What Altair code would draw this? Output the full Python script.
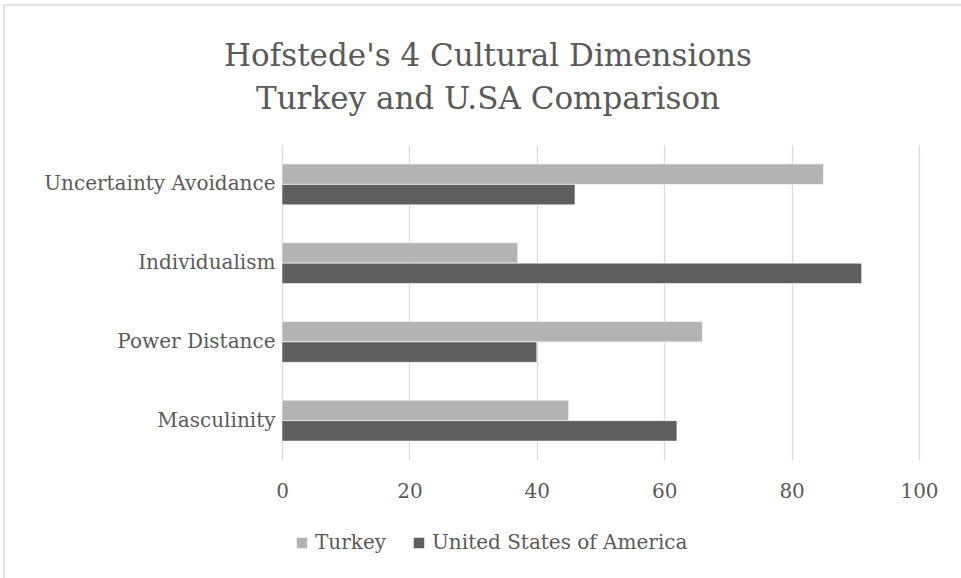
import altair as alt
import pandas as pd

categories = ["Uncertainty Avoidance", "Individualism", "Power Distance", "Masculinity"]
series = ["Turkey", "United States of America"]
turkey = [85, 37, 66, 45]
usa = [46, 91, 40, 62]
x_ticks = [0, 20, 40, 60, 80, 100]
title_lines = ["Hofstede's 4 Cultural Dimensions", "Turkey and U.SA Comparison"]

rows = []
for c, t, u in zip(categories, turkey, usa):
    rows.append({"category": c, "series": series[0], "value": t})
    rows.append({"category": c, "series": series[1], "value": u})
df = pd.DataFrame(rows)

FONT = "DejaVu Serif"
TXT = "#595959"

bars = alt.Chart(df).mark_bar(stroke="white", strokeWidth=0.6).encode(
    y=alt.Y("category:N", sort=categories, title=None,
            scale=alt.Scale(paddingInner=0.48, paddingOuter=0.24),
            axis=alt.Axis(ticks=False, domain=False, labelPadding=7,
                          labelFontSize=20, labelFont=FONT, labelColor=TXT,
                          labelLimit=400)),
    yOffset=alt.YOffset("series:N", sort=series),
    x=alt.X("value:Q", title=None,
            scale=alt.Scale(domain=[0, 100], nice=False),
            axis=alt.Axis(values=x_ticks, ticks=False, domain=False,
                          labelPadding=21, labelFontSize=20, labelFont=FONT,
                          labelColor=TXT, labelFlush=False,
                          grid=True, gridColor="#D9D9D9", gridWidth=1.3)),
    color=alt.Color("series:N", sort=series,
                    scale=alt.Scale(domain=series, range=["#B3B3B3", "#5E5E5E"]),
                    legend=alt.Legend(title=None, orient="none", direction="horizontal",
                                      legendX=10, legendY=388,
                                      symbolType="square", symbolSize=110,
                                      symbolStrokeWidth=0,
                                      labelFontSize=20, labelFont=FONT,
                                      labelColor=TXT, labelOffset=3,
                                      labelLimit=500,
                                      columnPadding=22, padding=0)),
)

frame = alt.Chart(alt.Data(values=[{}])).mark_rect(
    fill=None, stroke="#D9D9D9", strokeWidth=1.5
).encode(
    x=alt.value(-278), x2=alt.value(700),
    y=alt.value(-140), y2=alt.value(460),
)

title_df = pd.DataFrame({"line": title_lines})
title1 = alt.Chart(title_df.iloc[[0]]).mark_text(
    font=FONT, fontSize=31, color=TXT, align="center", baseline="alphabetic"
).encode(text="line:N", x=alt.value(206), y=alt.value(-79))
title2 = alt.Chart(title_df.iloc[[1]]).mark_text(
    font=FONT, fontSize=31, color=TXT, align="center", baseline="alphabetic"
).encode(text="line:N", x=alt.value(206), y=alt.value(-36))

chart = alt.layer(frame, bars, title1, title2).properties(
    width=637, height=315,
    autosize=alt.AutoSizeParams(type="none"),
    padding={"left": 282, "top": 145, "right": 42, "bottom": 118},
).configure(background="white").configure_view(strokeWidth=0)

chart.save("out.html", embed_options={"renderer": "svg", "actions": False})
